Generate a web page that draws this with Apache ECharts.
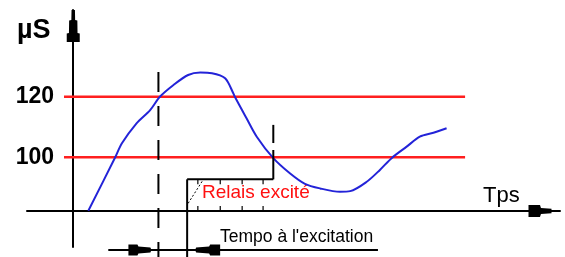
<!DOCTYPE html>
<html><head><meta charset="utf-8">
<script src="https://cdn.jsdelivr.net/npm/echarts@6/dist/echarts.min.js"></script>
<style>html,body{margin:0;padding:0;background:#fff}#c{width:565px;height:257px}</style>
</head><body><div id="c"></div>
<script>
// ---- data (time in arbitrary units, conductivity in µS) ----
const curveTime  = [3.1, 8.6, 10.0, 13.0, 15.8, 17.8, 20.6, 23.6, 26.1, 28.5, 31.2, 32.9, 33.2, 35.6, 37.7, 41.1, 44.5, 47.6, 50.7, 54.8, 56.9, 60.3, 63.0, 65.4, 68.5, 71.2, 74.0, 76.7];
const curveValue = [82.3, 99.9, 104.6, 111.2, 115.6, 120.0, 123.9, 127.2, 128.0, 127.8, 126.1, 121.1, 120.0, 112.9, 106.8, 99.7, 94.7, 91.2, 89.7, 88.6, 88.8, 91.9, 95.8, 99.7, 103.5, 106.8, 108.1, 109.6];
const thresholds = [100, 120];
const thresholdSpan = [-1.9, 80.5];
const yTickLabels = [100, 120];
const responseTime = 17.5;
const relayOnTime = 23.4;
const relayOffTime = 41.1;
const relayLevel = 92.7;
const hatchTimes = [25.6, 30.2, 34.7, 39.0];
const timeAxisLevel = 82.2;
const delaySpan = [7.2, 62.6];
const delayLevel = 69.3;
const xAxisLabel = 'Tps';
const yAxisLabel = 'µS';
const relayLabel = 'Relais excité';
const delayLabel = 'Tempo à l\'excitation';

const FONT = '"Liberation Sans", Arial, sans-serif';
const chart = echarts.init(document.getElementById('c'));

const curveData = curveTime.map((t, i) => [t, curveValue[i]]);
const thresholdSeries = thresholds.map(v => ({
  type: 'line', data: [[thresholdSpan[0], v], [thresholdSpan[1], v]],
  showSymbol: false, symbol: 'none', silent: true, z: 2,
  lineStyle: { color: '#ff1f1f', width: 2.5 }
}));

const yArrow = 'path://M4.8,0 L8.2,0 L8.4,10 L10.6,10.5 L10.8,23 L13,23.5 L13,32 L0,32 L0,23.5 L2.2,23 L2.4,10.5 L4.6,10 Z';
const xArrow = 'path://M4,0 L8.5,0 L9.5,11 L12.5,12 L12.5,24 L0,24 L0,12 L3,11 Z';

function renderAnnot(params, api) {
  const P = (t, v) => api.coord([t, v]);
  const children = [];
  const line = (a, b, extra) => children.push({
    type: 'line', shape: { x1: a[0], y1: a[1], x2: b[0], y2: b[1] },
    style: Object.assign({ stroke: '#000', lineWidth: 2 }, extra || {})
  });
  const bottomV = 67.0;
  // dashed marker
  line(P(responseTime, 128.2), P(responseTime, bottomV), { lineDash: [20, 14] });
  // right marker
  line(P(relayOffTime, 110.7), P(relayOffTime, 104.7));
  line(P(relayOffTime, 102.4), P(relayOffTime, relayLevel));
  // box
  line(P(relayOnTime, relayLevel), P(relayOffTime, relayLevel));
  line(P(relayOnTime, relayLevel), P(relayOnTime, bottomV));
  // hatch ticks
  hatchTimes.forEach(t => {
    const a = P(t, relayLevel);
    line([a[0], a[1]], [a[0], a[1] + 5], { lineWidth: 1.2 });
    const b = P(t, timeAxisLevel);
    line([b[0], b[1] - 5], [b[0], b[1]], { lineWidth: 1.2 });
  });
  const c = P(relayOnTime, relayLevel);
  line([c[0] + 1, c[1] + 24], [c[0] + 15, c[1] + 2], { lineWidth: 1, lineDash: [2, 2] });
  // delay line with arrows
  const s = P(delaySpan[0], delayLevel), e = P(delaySpan[1], delayLevel);
  line(s, e);
  const yb = s[1];
  const xt1 = P(responseTime, delayLevel)[0] - 7;
  const xt2 = P(relayOnTime, delayLevel)[0] + 8;
  children.push({ type: 'polygon', shape: { points: [
    [xt1 - 23, yb - 5.5], [xt1 - 14, yb - 5.5], [xt1 - 13, yb - 3.5], [xt1 - 1, yb - 2.5], [xt1, yb],
    [xt1 - 1, yb + 2.5], [xt1 - 13, yb + 3.5], [xt1 - 14, yb + 5.5], [xt1 - 23, yb + 5.5]] },
    style: { fill: '#000' } });
  children.push({ type: 'polygon', shape: { points: [
    [xt2 + 25, yb - 5.5], [xt2 + 15, yb - 5.5], [xt2 + 14, yb - 3.5], [xt2 + 1, yb - 2.5], [xt2, yb],
    [xt2 + 1, yb + 2.5], [xt2 + 14, yb + 3.5], [xt2 + 15, yb + 5.5], [xt2 + 25, yb + 5.5]] },
    style: { fill: '#000' } });
  return { type: 'group', children };
}

chart.setOption({
  animation: false,
  backgroundColor: '#fff',
  grid: { left: 27, right: 5, top: 10, bottom: 10, containLabel: false, outerBoundsMode: 'none' },
  xAxis: {
    type: 'value', min: -9.5, max: 100,
    axisLine: { show: true, onZero: true, onZeroAxisIndex: 1,
      symbol: ['none', xArrow], symbolSize: [12.5, 23], symbolOffset: [0, -20],
      lineStyle: { color: '#000', width: 2 } },
    axisTick: { show: false }, axisLabel: { show: false }, splitLine: { show: false }
  },
  yAxis: [{
    type: 'value', min: 70.33, max: 148.68,
    axisLine: { show: true, onZero: true,
      symbol: ['none', yArrow], symbolSize: [13, 32], symbolOffset: [0, -16],
      lineStyle: { color: '#000', width: 2 } },
    axisTick: { show: false }, splitLine: { show: false },
    axisLabel: { show: true, customValues: yTickLabels, margin: -27, color: '#000',
      fontSize: 23, fontWeight: 'bold', fontFamily: FONT }
  }, {
    type: 'value', min: -36, max: 201, show: false
  }],
  series: [
    ...thresholdSeries,
    { type: 'line', data: curveData, smooth: 0.3, showSymbol: false, symbol: 'none', z: 3,
      lineStyle: { color: '#2323d8', width: 2 } },
    { type: 'custom', data: [[0, 0]], renderItem: renderAnnot, clip: false, z: 4, silent: true }
  ],
  graphic: [
    { type: 'text', x: 17, y: 30.7, style: { text: yAxisLabel, font: 'bold 27px ' + FONT, fill: '#000',
      align: 'left', verticalAlign: 'middle', textAlign: 'left', textVerticalAlign: 'middle' } },
    { type: 'text', x: 483, y: 195.5, style: { text: xAxisLabel, font: '22px ' + FONT, fill: '#000',
      align: 'left', verticalAlign: 'middle', textAlign: 'left', textVerticalAlign: 'middle' } },
    { type: 'text', x: 202, y: 193, style: { text: relayLabel, font: '19px ' + FONT, fill: '#ff1010',
      align: 'left', verticalAlign: 'middle', textAlign: 'left', textVerticalAlign: 'middle' } },
    { type: 'text', x: 220, y: 237.5, style: { text: delayLabel, font: '17.5px ' + FONT, fill: '#000',
      align: 'left', verticalAlign: 'middle', textAlign: 'left', textVerticalAlign: 'middle' } }
  ]
});
</script></body></html>
